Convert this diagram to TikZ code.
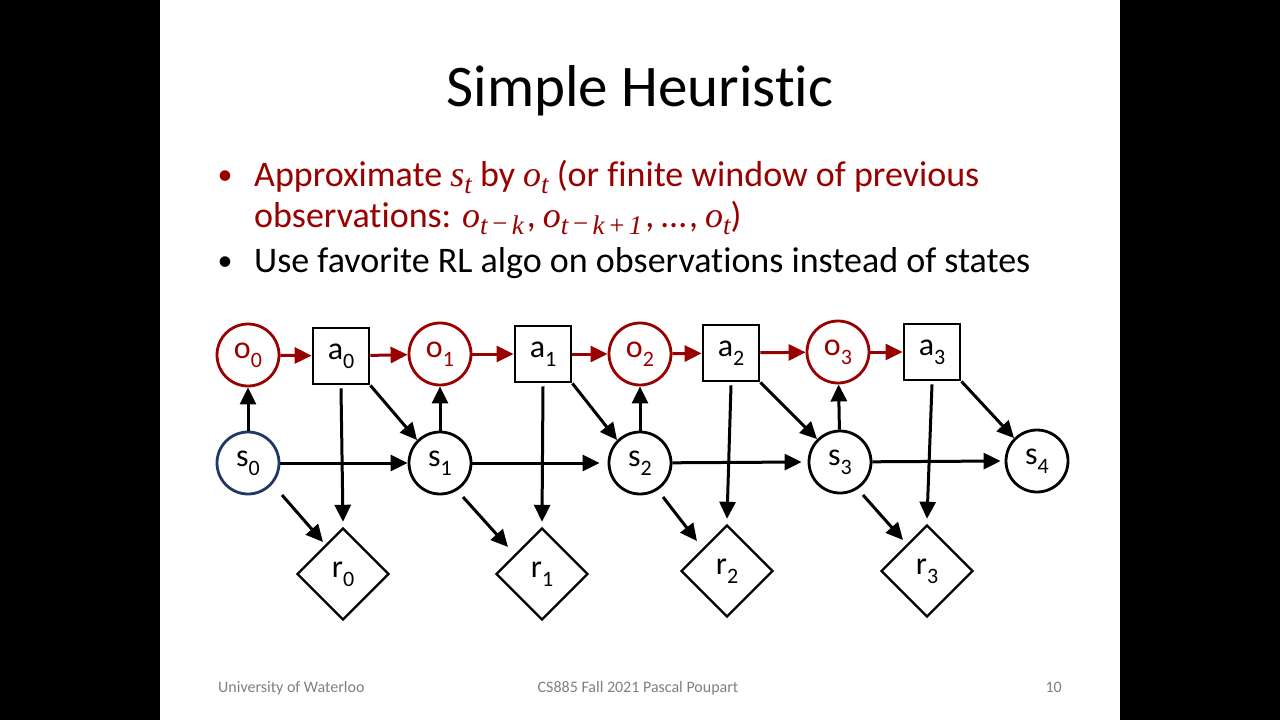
\documentclass[tikz,border=0pt]{standalone}
\usepackage{fontspec}
\setmainfont{Carlito}[Ligatures=NoCommon]
\newfontfamily\mitfont{Liberation Serif}[Ligatures=NoCommon]
\usetikzlibrary{arrows.meta,shapes.geometric}
\definecolor{dred}{RGB}{153,0,0}
\definecolor{dblue}{RGB}{31,56,100}
\definecolor{fgray}{RGB}{128,128,128}
\newcommand{\lsub}[1]{\raisebox{-0.28em}{\fontsize{22}{22}\selectfont #1}}
% italic math-like variable with subscript
\newcommand{\mv}[2]{{\mitfont\itshape\fontsize{36}{36}\selectfont #1\raisebox{-0.2em}{\fontsize{27}{27}\selectfont #2}}}
\newcommand{\mminus}{\hspace{3pt}\raisebox{0.05em}{−}\hspace{3pt}}
\newcommand{\mplus}{\hspace{3pt}+\hspace{3pt}}
\newcommand{\mcomma}{{\fontsize{36}{36}\selectfont\hspace{3pt},\hspace{7pt}}}
\begin{document}
\begin{tikzpicture}[x=1pt,y=-1pt,
  lbl/.style={font=\fontsize{32}{32}\selectfont, inner sep=0pt},
  onode/.style={lbl, circle, draw=dred, text=dred, line width=2.8pt, minimum size=62pt},
  snode/.style={lbl, circle, draw=black, line width=2.8pt, minimum size=62pt},
  anode/.style={lbl, rectangle, draw=black, line width=2.8pt, minimum size=56pt},
  rnode/.style={lbl, diamond, draw=black, line width=2.4pt, minimum width=92pt, minimum height=92pt},
  arr/.style={line width=3pt, -{Triangle[length=17pt,width=16pt]}},
  rarr/.style={arr, draw=dred, fill=dred},
  bul/.style={anchor=base west, inner sep=0pt, font=\fontsize{36}{36}\selectfont},
  dot/.style={anchor=base, inner sep=0pt, font=\fontsize{30}{30}\selectfont},
  foot/.style={anchor=base, inner sep=0pt, text=fgray, font=\fontsize{16}{16}\selectfont}
]
\useasboundingbox (0,0) rectangle (1280,720);
\fill[black] (0,0) rectangle (1280,720);
\fill[white] (160,0) rectangle (1120,720);

% title and bullets
\node[anchor=base, inner sep=0pt, font=\fontsize{59}{59}\selectfont] (title) at (640,106) {Simple Heuristic};
\node[dot, text=dred] (b1dot) at (225,184) {•};
\node[bul, text=dred] (b1a) at (254,186) {Approximate \mv{s}{t} by \mv{o}{t} (or finite window of previous};
\node[bul, text=dred] (b1b) at (254,227) {observations: \mv{o}{t\mminus k}\mcomma\mv{o}{t\mminus k\mplus 1}\mcomma…\mcomma\mv{o}{t})};
\node[dot] (b2dot) at (225,270) {•};
\node[bul] (b2) at (254,272) {Use favorite RL algo on observations instead of states};

% nodes
\node[onode] (o0) at (248,355) {o\lsub{0}};
\node[anode] (a0) at (341,356) {a\lsub{0}};
\node[onode] (o1) at (440,354) {o\lsub{1}};
\node[anode] (a1) at (543,354) {a\lsub{1}};
\node[onode] (o2) at (640,354) {o\lsub{2}};
\node[anode] (a2) at (731,353) {a\lsub{2}};
\node[onode] (o3) at (838,352) {o\lsub{3}};
\node[anode] (a3) at (932,352) {a\lsub{3}};

\node[snode, draw=dblue] (s0) at (248,463) {s\lsub{0}};
\node[snode] (s1) at (440,463) {s\lsub{1}};
\node[snode] (s2) at (640,463) {s\lsub{2}};
\node[snode] (s3) at (840,462) {s\lsub{3}};
\node[snode] (s4) at (1037,461) {s\lsub{4}};

\node[rnode] (r0) at (343,574) {r\lsub{0}};
\node[rnode] (r1) at (542,574) {r\lsub{1}};
\node[rnode] (r2) at (727,571) {r\lsub{2}};
\node[rnode] (r3) at (927,571) {r\lsub{3}};

% red chain
\draw[rarr] (o0) -- (a0);
\draw[rarr] (a0) -- (o1);
\draw[rarr] (o1) -- (a1);
\draw[rarr] (a1) -- (o2);
\draw[rarr] (o2) -- (a2);
\draw[rarr] (a2) -- (o3);
\draw[rarr] (o3) -- (a3);

% s -> o
\draw[arr] (s0) -- (o0);
\draw[arr] (s1) -- (o1);
\draw[arr] (s2) -- (o2);
\draw[arr] (s3) -- (o3);

% a -> s
\draw[arr] (a0.south east) -- (s1.north west);
\draw[arr] (a1.south east) -- (s2.north west);
\draw[arr] (a2.south east) -- (s3.north west);
\draw[arr] (a3.south east) -- (s4.north west);

% s -> s
\draw[arr] (s0) -- (s1);
\draw[arr] (s1) -- ([xshift=-8pt]s2.west);
\draw[arr] (s2) -- ([xshift=-6pt]s3.west);
\draw[arr] (s3) -- ([xshift=-4pt]s4.west);

% a -> r
\draw[arr] ([yshift=-3pt]a0.south) -- ([yshift=5pt]r0.north);
\draw[arr] ([yshift=-3pt]a1.south) -- ([yshift=5pt]r1.north);
\draw[arr] ([yshift=-3pt]a2.south) -- ([yshift=5pt]r2.north);
\draw[arr] ([yshift=-3pt]a3.south) -- ([yshift=5pt]r3.north);

% s -> r
\draw[arr] ([shift={(34,32)}]s0.center) -- ([shift={(-20,-32)}]r0.center);
\draw[arr] ([shift={(23,34)}]s1.center) -- ([shift={(-34,-27)}]r1.center);
\draw[arr] ([shift={(23,34)}]s2.center) -- ([shift={(-30,-30)}]r2.center);
\draw[arr] ([shift={(23,33)}]s3.center) -- ([shift={(-24,-31)}]r3.center);

% footer
\node[foot, anchor=base west] (f1) at (218,692) {University of Waterloo};
\node[foot] (f2) at (638,692) {CS885 Fall 2021 Pascal Poupart};
\node[foot, anchor=base east] (f3) at (1062,692) {10};
\end{tikzpicture}
\end{document}
